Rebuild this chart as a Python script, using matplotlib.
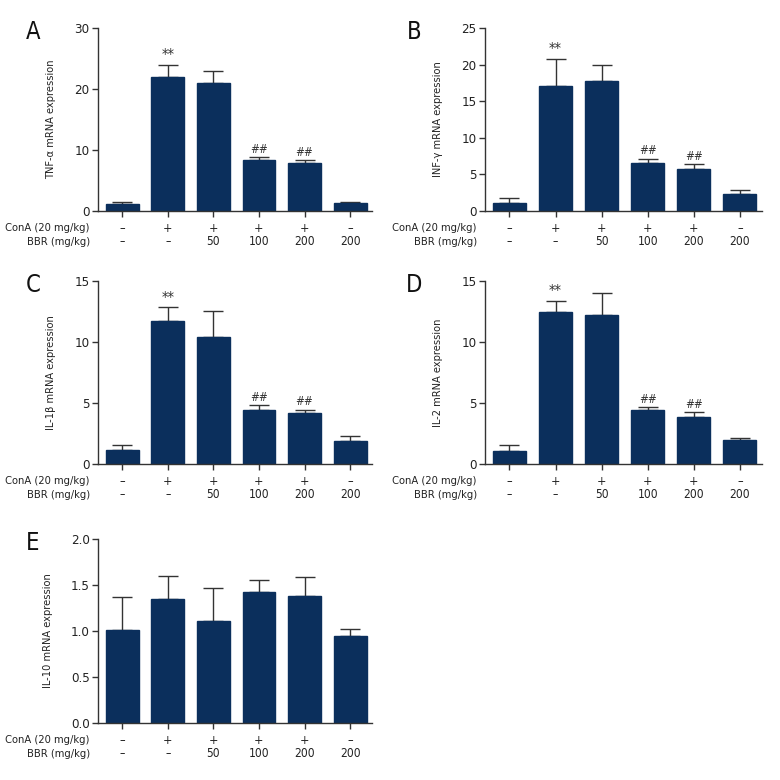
import matplotlib
matplotlib.use("Agg")
import matplotlib.pyplot as plt
from matplotlib import font_manager as fm
from matplotlib.transforms import blended_transform_factory

# pick a condensed sans font if one is installed
chosen = None
for f in fm.fontManager.ttflist:
    if f.style != "normal" or f.weight not in (400, "normal", "regular"):
        continue
    if "Narrow" in f.name or "Condensed" in f.name or str(f.stretch) in ("condensed", "semi-condensed", "75", "87", "100") and "Condensed" in f.fname:
        chosen = f
        break
if chosen is None:
    for f in fm.fontManager.ttflist:
        if "Condensed" in f.fname and f.style == "normal" and "Bold" not in f.fname and "Oblique" not in f.fname:
            chosen = f
            break

if chosen is not None:
    plt.rcParams['font.family'] = [chosen.name, 'DejaVu Sans']
    plt.rcParams['font.stretch'] = chosen.stretch
    FS_TICK, FS_TXT, FS_YL = 9.5, 8.0, 7.9
else:
    plt.rcParams['font.family'] = ['Liberation Sans', 'DejaVu Sans']
    FS_TICK, FS_TXT, FS_YL = 8.5, 7.2, 7.2

cona_labels = ["\u2013", "+", "+", "+", "+", "\u2013"]
bbr_labels = ["\u2013", "\u2013", "50", "100", "200", "200"]

tnf_mean = [1.15, 21.9, 21.0, 8.35, 7.85, 1.36]
tnf_err = [0.25, 2.1, 2.0, 0.45, 0.45, 0.14]

inf_mean = [1.14, 17.1, 17.8, 6.6, 5.8, 2.36]
inf_err = [0.63, 3.7, 2.1, 0.54, 0.56, 0.5]

il1b_mean = [1.12, 11.76, 10.45, 4.46, 4.17, 1.85]
il1b_err = [0.46, 1.09, 2.13, 0.36, 0.29, 0.44]

il2_mean = [1.03, 12.47, 12.2, 4.41, 3.89, 1.93]
il2_err = [0.52, 0.9, 1.82, 0.25, 0.38, 0.22]

il10_mean = [1.01, 1.345, 1.105, 1.425, 1.378, 0.945]
il10_err = [0.36, 0.255, 0.365, 0.125, 0.207, 0.073]

panels = [
    dict(letter="A", ylabel="TNF-\u03b1 mRNA expression", mean=tnf_mean, err=tnf_err,
         ylim=30, ticks=[0, 10, 20, 30], fmt="{:g}", marks={1: "**", 3: "##", 4: "##"},
         rect=[98, 28, 372, 211]),
    dict(letter="B", ylabel="INF-\u03b3 mRNA expression", mean=inf_mean, err=inf_err,
         ylim=25, ticks=[0, 5, 10, 15, 20, 25], fmt="{:g}", marks={1: "**", 3: "##", 4: "##"},
         rect=[485, 28, 762, 211]),
    dict(letter="C", ylabel="IL-1\u03b2 mRNA expression", mean=il1b_mean, err=il1b_err,
         ylim=15, ticks=[0, 5, 10, 15], fmt="{:g}", marks={1: "**", 3: "##", 4: "##"},
         rect=[98, 281, 372, 464]),
    dict(letter="D", ylabel="IL-2 mRNA expression", mean=il2_mean, err=il2_err,
         ylim=15, ticks=[0, 5, 10, 15], fmt="{:g}", marks={1: "**", 3: "##", 4: "##"},
         rect=[485, 281, 762, 464]),
    dict(letter="E", ylabel="IL-10 mRNA expression", mean=il10_mean, err=il10_err,
         ylim=2.0, ticks=[0, 0.5, 1.0, 1.5, 2.0], fmt="{:.1f}", marks={},
         rect=[98, 539, 372, 723]),
]

W = H = 780
fig = plt.figure(figsize=(7.8, 7.8), dpi=100)
bar_color = "#0b2f5c"
line_color = "#333333"
txt_color = "#222222"

for p in panels:
    l, t, r, b = p["rect"]
    ax = fig.add_axes([l / W, 1 - b / H, (r - l) / W, (b - t) / H])
    x = list(range(len(p["mean"])))
    ax.bar(x, p["mean"], width=0.72, color=bar_color, edgecolor=bar_color, zorder=2)
    ax.errorbar(x, p["mean"], yerr=[[0] * len(x), p["err"]], fmt="none",
                ecolor=line_color, elinewidth=1.0, capsize=7.5, capthick=1.0, zorder=1)
    ax.set_xlim(-0.53, 5.48)
    ax.set_ylim(0, p["ylim"])
    ax.set_yticks(p["ticks"])
    ax.set_yticklabels([p["fmt"].format(v) for v in p["ticks"]], fontsize=FS_TICK, color=txt_color)
    ax.set_xticks(x)
    ax.set_xticklabels([])
    for s in ["top", "right"]:
        ax.spines[s].set_visible(False)
    for s in ["left", "bottom"]:
        ax.spines[s].set_color(line_color)
        ax.spines[s].set_linewidth(1.0)
    ax.tick_params(axis="both", direction="out", length=4, width=1.0, color=line_color, pad=2)
    ax.set_ylabel(p["ylabel"], fontsize=FS_YL, labelpad=13, color=txt_color)

    for i, m in p["marks"].items():
        top = p["mean"][i] + p["err"][i]
        fs = FS_TICK + 1 if m == "**" else FS_TXT + 0.5
        ax.annotate(m, xy=(i, top), xytext=(0, 1), textcoords="offset points",
                    ha="center", va="bottom", fontsize=fs, color="#333333")

    trans = blended_transform_factory(ax.transData, ax.transAxes)
    for i in x:
        ax.annotate(cona_labels[i], xy=(i, 0), xycoords=trans, xytext=(0, -12.5),
                    textcoords="offset points", ha="center", va="center", fontsize=FS_TICK - 0.5,
                    color=txt_color, annotation_clip=False)
        ax.annotate(bbr_labels[i], xy=(i, 0), xycoords=trans, xytext=(0, -22),
                    textcoords="offset points", ha="center", va="center", fontsize=FS_TXT + 0.6,
                    color=txt_color, annotation_clip=False)
    ax.annotate("ConA (20 mg/kg)", xy=(0, 0), xycoords="axes fraction", xytext=(-6, -12.5),
                textcoords="offset points", ha="right", va="center", fontsize=FS_TXT,
                color=txt_color, annotation_clip=False)
    ax.annotate("BBR (mg/kg)", xy=(0, 0), xycoords="axes fraction", xytext=(-6, -22),
                textcoords="offset points", ha="right", va="center", fontsize=FS_TXT,
                color=txt_color, annotation_clip=False)

    lx = 33 if l < 300 else 414
    fig.text(lx / W, 1 - (t + 4) / H, p["letter"], fontsize=17, ha="center", va="center",
             color="#111111")

fig.savefig("out.png", dpi=100, facecolor="white")
